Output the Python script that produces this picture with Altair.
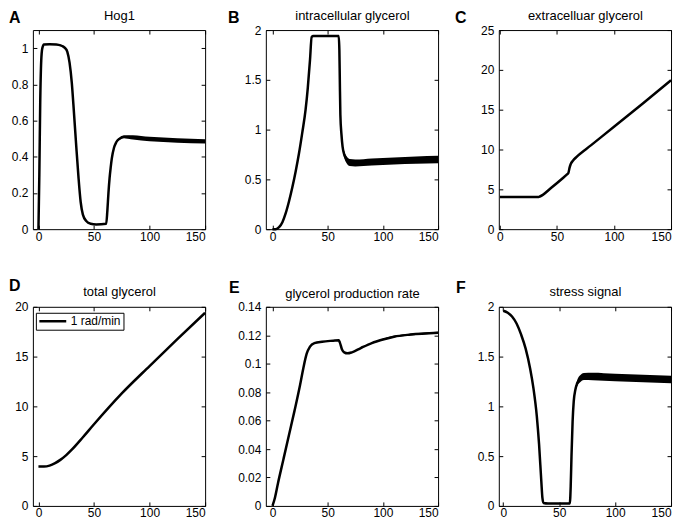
import altair as alt
import pandas as pd

FONT = "Liberation Sans"
X_TICKS = [0, 50, 100, 150]

# ---- A: Hog1 ----
hog1_t = [0, 0.8, 1.6, 2.5, 3.5, 5, 10, 16, 20, 22, 24, 26, 28, 30, 32, 34, 36, 38, 40, 43, 47, 52, 61, 62, 63, 64, 65, 66, 68, 70, 73, 77, 85, 100, 125, 150]
hog1_v = [0, 0.3, 0.7, 0.93, 1.0, 1.02, 1.022, 1.02, 1.015, 1.01, 1.0, 0.98, 0.92, 0.81, 0.64, 0.46, 0.29, 0.15, 0.08, 0.045, 0.03, 0.026, 0.03, 0.1, 0.2, 0.28, 0.34, 0.39, 0.45, 0.48, 0.50, 0.51, 0.507, 0.498, 0.49, 0.485]
hog1_w = [0] * 30 + [0.003, 0.008, 0.012, 0.012, 0.012, 0.012]
hog1_yticks = [0, 0.2, 0.4, 0.6, 0.8, 1]

# ---- B: intracellular glycerol ----
ig_t = [0, 3, 6, 9, 12, 15, 18, 21, 24, 27, 30, 32, 34, 35.5, 37, 45, 60, 60.6, 61, 61.5, 62.5, 63.5, 65, 67, 70, 75, 90, 110, 130, 150]
ig_v = [0, 0, 0.02, 0.07, 0.16, 0.28, 0.42, 0.58, 0.76, 0.97, 1.2, 1.42, 1.7, 1.93, 1.94, 1.94, 1.94, 1.8, 1.5, 1.15, 0.95, 0.83, 0.75, 0.70, 0.67, 0.665, 0.675, 0.685, 0.693, 0.70]
ig_w = [0] * 17 + [0.01, 0.02, 0.02, 0.025, 0.03, 0.032, 0.035, 0.035, 0.035, 0.036, 0.036, 0.037, 0.037]
ig_yticks = [0, 0.5, 1, 1.5, 2]

# ---- C: extracelluar glycerol ----
eg_t = [0, 34, 35, 45, 55, 59, 60, 61, 62, 64, 67, 80, 100, 125, 150]
eg_v = [4.05, 4.05, 4.1, 5.2, 6.4, 6.9, 7.05, 7.7, 8.15, 8.6, 9.05, 10.55, 12.85, 15.75, 18.7]
eg_w = [0] * 15
eg_yticks = [0, 5, 10, 15, 20, 25]

# ---- D: total glycerol ----
tg_t = [0, 5, 10, 15, 20, 25, 30, 40, 50, 75, 100, 125, 150]
tg_v = [3.95, 3.95, 4.05, 4.3, 4.65, 5.1, 5.65, 6.9, 8.2, 11.3, 14.05, 16.75, 19.4]
tg_w = [0] * 13
tg_yticks = [0, 5, 10, 15, 20]
tg_series = "1 rad/min"

# ---- E: glycerol production rate ----
pr_t = [0, 2, 5, 10, 15, 20, 25, 28, 31, 34, 38, 45, 55, 60, 61, 63, 65, 68, 72, 80, 90, 100, 110, 125, 150]
pr_v = [0, 0.005, 0.016, 0.033, 0.05, 0.067, 0.085, 0.097, 0.107, 0.112, 0.1145, 0.1155, 0.1162, 0.1165, 0.115, 0.110, 0.108, 0.1073, 0.108, 0.111, 0.1145, 0.117, 0.119, 0.1205, 0.1218]
pr_w = [0] * 19 + [0.0002, 0.0004, 0.0005, 0.0006, 0.0006, 0.0006]
pr_yticks = [0, 0.02, 0.04, 0.06, 0.08, 0.1, 0.12, 0.14]

# ---- F: stress signal ----
ss_t = [0, 4, 8, 12, 16, 20, 24, 27, 30, 32, 34, 35, 36, 40, 59.5, 60.3, 61, 62, 63, 64.5, 66, 69, 72, 80, 100, 125, 150]
ss_v = [1.96, 1.94, 1.9, 1.83, 1.72, 1.58, 1.38, 1.18, 0.9, 0.62, 0.25, 0.08, 0.03, 0.025, 0.025, 0.2, 0.5, 0.85, 1.05, 1.17, 1.23, 1.28, 1.30, 1.30, 1.29, 1.28, 1.27]
ss_w = [0] * 18 + [0.01, 0.02, 0.03, 0.035, 0.036, 0.037, 0.037, 0.037, 0.037]
ss_yticks = [0, 0.5, 1, 1.5, 2]

W, H = 173, 200


def panel(letter, title, t, v, w, x_min, y_max, y_ticks, letter_x, letter_y, title_pad, series=None):
    df = pd.DataFrame({"t": t, "v": v, "w": w})
    df["s"] = series if series else ""
    base = alt.Chart(df).transform_calculate(lo="datum.v - datum.w", hi="datum.v + datum.w")
    xsc = alt.Scale(domain=[x_min, 150], nice=False, zero=False)
    ysc = alt.Scale(domain=[0, y_max], nice=False, zero=False)
    common = dict(tickSize=4, offset=-4, domain=False, grid=False, tickColor="black",
                  tickWidth=1)
    lab = dict(labelFontSize=12, labelFont=FONT, labelColor="black", format="~f")
    xb = alt.Axis(orient="bottom", values=X_TICKS, labelPadding=2, title=None, **lab, **common)
    yl = alt.Axis(orient="left", values=y_ticks, labelPadding=5, title=None, **lab, **common)
    xt = alt.Axis(orient="top", values=X_TICKS, labels=False, title=title,
                  titleFont=FONT, titleFontSize=13, titleFontWeight="normal",
                  titleColor="black", titlePadding=title_pad, **common)
    yr = alt.Axis(orient="right", values=y_ticks, labels=False, title=None, **common)

    band = base.mark_area(color="black", interpolate="monotone").encode(
        x=alt.X("t:Q", scale=xsc, axis=None),
        y=alt.Y("lo:Q", scale=ysc, axis=None),
        y2="hi:Q",
    )
    enc = dict(x=alt.X("t:Q", scale=xsc, axis=xb), y=alt.Y("v:Q", scale=ysc, axis=yl))
    if series:
        enc["color"] = alt.Color(
            "s:N",
            scale=alt.Scale(range=["black"]),
            legend=alt.Legend(
                title=None, orient="none", legendX=3, legendY=6,
                strokeColor="black", fillColor="white", padding=2, cornerRadius=0,
                symbolType="M-1,0H4.4", symbolSize=100, symbolStrokeWidth=2.5,
                symbolStrokeColor="black", labelFontSize=12, labelFont=FONT,
                labelColor="black", labelOffset=20,
            ),
        )
    line = base.mark_line(color="black", strokeWidth=2.5, interpolate="monotone").encode(**enc)
    frame = base.mark_line(opacity=0).encode(
        x=alt.X("t:Q", scale=xsc, axis=xt), y=alt.Y("v:Q", scale=ysc, axis=yr)
    )
    lett = alt.Chart(pd.DataFrame({"k": [letter]})).mark_text(
        font=FONT, fontSize=16, fontWeight="bold", align="left", baseline="alphabetic", color="black"
    ).encode(text="k:N", x=alt.value(letter_x), y=alt.value(letter_y))
    return alt.layer(band, line, frame, lett).resolve_axis(
        x="independent", y="independent"
    ).properties(width=W, height=H)


pA = panel("A", "Hog1", hog1_t, hog1_v, hog1_w, -5, 1.1, hog1_yticks, -24, -7, 7)
pB = panel("B", "intracellular glycerol", ig_t, ig_v, ig_w, -6, 2, ig_yticks, -38, -7, 7)
pC = panel("C", "extracelluar glycerol", eg_t, eg_v, eg_w, -1, 25, eg_yticks, -44, -7, 7)
pD = panel("D", "total glycerol", tg_t, tg_v, tg_w, -5, 20, tg_yticks, -24, -16, 8, series=tg_series)
pE = panel("E", "glycerol production rate", pr_t, pr_v, pr_w, -6, 0.14, pr_yticks, -37, -14, 6)
pF = panel("F", "stress signal", ss_t, ss_v, ss_w, -4, 2, ss_yticks, -43, -14, 8)

chart = (
    alt.concat(pA, pB, pC, pD, pE, pF, columns=3, spacing={"row": 78, "column": 61}, bounds="flush")
    .resolve_scale(color="independent")
    .properties(padding=0, background="white")
    .configure_view(stroke="black", strokeWidth=1)
)

chart.save("out.html", embed_options={"renderer": "svg", "actions": False})
